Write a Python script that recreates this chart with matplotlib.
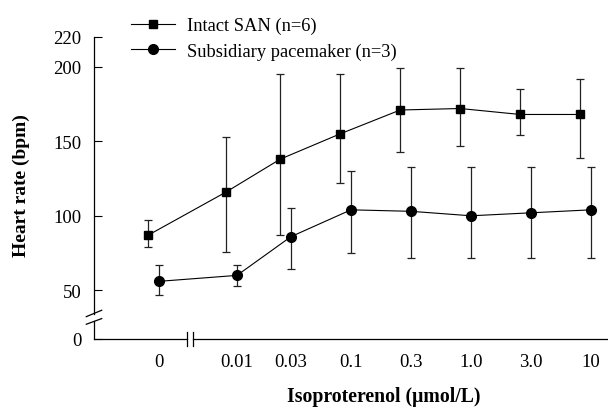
import matplotlib
matplotlib.use("Agg")
import matplotlib.pyplot as plt
import matplotlib.transforms as mtransforms
from matplotlib.lines import Line2D
import numpy as np

plt.rcParams["font.family"] = ["Liberation Serif", "DejaVu Serif"]

# datos
doses = ["0", "0.01", "0.03", "0.1", "0.3", "1.0", "3.0", "10"]

san_mean = [87, 116, 138, 155, 171, 172, 168, 168]
san_lo = [79, 76, 87, 122, 143, 147, 154, 139]
san_hi = [97, 153, 195, 195, 199, 199, 185, 192]

sub_mean = [56, 60, 86, 104, 103, 100, 102, 104]
sub_lo = [47, 53, 64, 75, 72, 72, 72, 72]
sub_hi = [67, 67, 105, 130, 133, 133, 133, 133]

# posiciones de las categorias (eje con corte entre 0 y 0.01)
xpos = np.array([0, 1.3, 2.2, 3.2, 4.2, 5.2, 6.2, 7.2])
shift_san = -0.18
y_zero = 17.3  # donde se dibuja el "0" bajo el corte

fig = plt.figure(figsize=(6.08, 4.10), dpi=100)
ax = fig.add_axes([94 / 608, 1 - 340 / 410, 1 - 94 / 608, (340 - 38) / 410])

san_mean = np.array(san_mean)
sub_mean = np.array(sub_mean)
san_err = [san_mean - np.array(san_lo), np.array(san_hi) - san_mean]
sub_err = [sub_mean - np.array(sub_lo), np.array(sub_hi) - sub_mean]

ax.errorbar(xpos + shift_san, san_mean, yerr=san_err, fmt="s-", color="black",
            ecolor="#222222", elinewidth=0.9, capsize=2.6, capthick=0.9,
            markersize=6, linewidth=0.8, clip_on=False, zorder=3)
ax.errorbar(xpos, sub_mean, yerr=sub_err, fmt="o-", color="black",
            ecolor="#222222", elinewidth=0.9, capsize=2.6, capthick=0.9,
            markersize=7, linewidth=0.8, clip_on=False, zorder=3)

xmin, xmax = -65 / 60, 449 / 60
ax.set_xlim(xmin, xmax)
ax.set_ylim(y_zero, 220)

ax.set_xticks(xpos)
ax.set_xticklabels(doses)
ax.set_yticks([y_zero, 50, 100, 150, 200, 220])
ax.set_yticklabels(["0", "50", "100", "150", "200", "220"])
ax.tick_params(axis="x", length=0, pad=10, labelsize=13.5)
ax.tick_params(axis="y", direction="in", length=6, width=0.8, pad=9, labelsize=13.5)

for s in ["top", "right", "left", "bottom"]:
    ax.spines[s].set_visible(False)

# ejes dibujados a mano con cortes
tx = mtransforms.blended_transform_factory(ax.transData, ax.transAxes)
ty = mtransforms.blended_transform_factory(ax.transAxes, ax.transData)
kw = dict(color="black", linewidth=0.9, clip_on=False)
ax.plot([xmin, 0.467], [0, 0], transform=tx, **kw)
ax.plot([0.567, xmax], [0, 0], transform=tx, **kw)
ax.plot([0.467, 0.467], [-0.023, 0.023], transform=tx, **kw)
ax.plot([0.567, 0.567], [-0.023, 0.023], transform=tx, **kw)

ax.plot([0, 0], [y_zero, 29.5], transform=ty, **kw)
ax.plot([0, 0], [34.0, 220], transform=ty, **kw)
ax.plot([-0.015, 0.015], [32.3, 36.6], transform=ty, **kw)
ax.plot([-0.015, 0.015], [27.2, 31.0], transform=ty, **kw)

# leyenda manual
h1 = Line2D([], [], color="black", marker="s", markersize=6, linewidth=0.8)
h2 = Line2D([], [], color="black", marker="o", markersize=7, linewidth=0.8)
fig.legend([h1, h2], ["Intact SAN (n=6)", "Subsidiary pacemaker (n=3)"],
           loc="upper left", bbox_to_anchor=(118 / 608, 1 - 5 / 410),
           frameon=False, fontsize=13.3, handlelength=2.4, handletextpad=0.65,
           labelspacing=0.45, borderpad=0.2)

fig.text(21 / 608, 1 - 186 / 410, "Heart rate (bpm)", rotation=90, ha="center",
         va="center", fontsize=14, fontweight="bold")
fig.text(384 / 608, 1 - 397 / 410, "Isoproterenol (\u03bcmol/L)", ha="center",
         va="center", fontsize=14.2, fontweight="bold")

fig.savefig("out.png", dpi=100)
